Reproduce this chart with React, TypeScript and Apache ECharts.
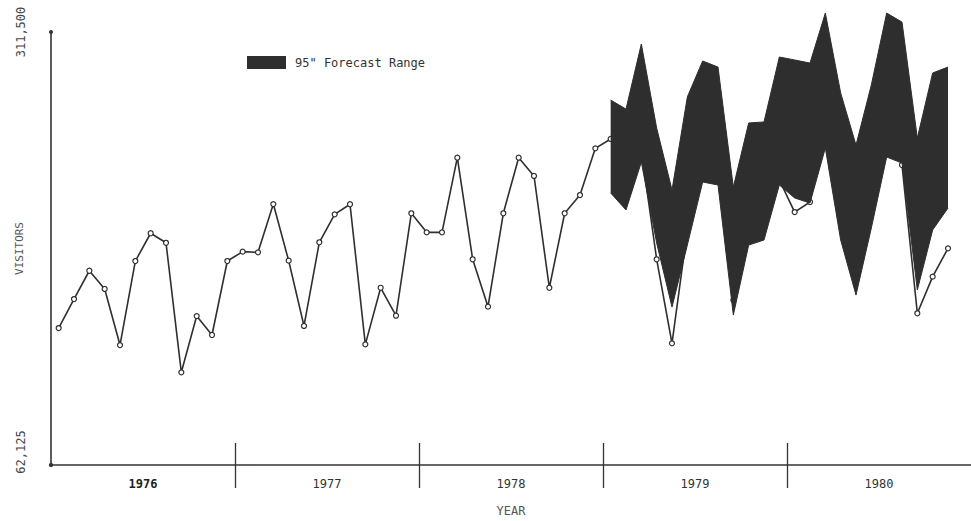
import React, { useEffect, useRef } from 'react';
import * as echarts from 'echarts';

const years = ['1976', '1977', '1978', '1979', '1980'];
const months = ['Jan', 'Feb', 'Mar', 'Apr', 'May', 'Jun', 'Jul', 'Aug', 'Sep', 'Oct', 'Nov', 'Dec'];

const visitors1976 = [141000, 157700, 174000, 163500, 131200, 179600, 195600, 190100, 115500, 147900, 137000, 179600];
const visitors1977 = [185000, 184600, 212400, 179800, 142200, 190400, 206500, 212300, 131600, 164200, 148100, 207100];
const visitors1978 = [196100, 196100, 239100, 180600, 153300, 207100, 239100, 228600, 164200, 207100, 217600, 244500];
const visitors1979 = [249900, 244600, 243500, 180600, 132200, 197500, 237800, 243500, 157100, 197500, 200300, 226300];
const visitors1980 = [207800, 213600, 260800, 214700, 180200, 237800, 266600, 234900, 149500, 170600, 186900];

// 95% forecast range, Jan 1979 .. Nov 1980
const forecastUpper = [
  272300, 267100, 304600, 256200, 220500, 274100, 294800, 291300, 222200, 259100, 259700, 297100,
  295400, 293600, 322400, 276400, 246400, 281000, 322400, 317200, 250400, 287900, 291300,
];
const forecastLower = [
  218800, 209000, 236600, 190000, 153100, 188800, 225100, 223400, 148500, 188800, 191700, 223400,
  215900, 213000, 244700, 191700, 160000, 198600, 239500, 236000, 162900, 197500, 210100,
];
const forecastStartYear = '1979';

const yTickLabels = [62125, 311500];
const FORECAST_NAME = '95" Forecast Range';

const FONT = "'DejaVu Sans Mono', 'Liberation Mono', monospace";
const INK = '#333333';
const BAND = '#2e2e2e';

export default function App() {
  const ref = useRef<HTMLDivElement>(null);

  useEffect(() => {
    if (!ref.current) return;
    const chart = echarts.init(ref.current, undefined, { renderer: 'svg' });

    const categories: string[] = [];
    years.forEach((y) => months.forEach((m) => categories.push(`${m} ${y}`)));

    const visitors = [...visitors1976, ...visitors1977, ...visitors1978, ...visitors1979, ...visitors1980];
    const visitorsData = categories.map((_, i) => (i < visitors.length ? visitors[i] : '-'));

    const start = years.indexOf(forecastStartYear) * 12;
    const lowerData = categories.map((_, i) => {
      const k = i - start;
      return k >= 0 && k < forecastLower.length ? forecastLower[k] : '-';
    });
    const diffData = categories.map((_, i) => {
      const k = i - start;
      return k >= 0 && k < forecastUpper.length ? forecastUpper[k] - forecastLower[k] : '-';
    });

    const yearBoundaries = years.slice(1).map((_, i) => (i + 1) * 12);
    const yearCenters = years.map((_, i) => i * 12 + 6);

    const tickCommon = {
      type: 'value',
      min: 0,
      max: categories.length,
      position: 'bottom',
      axisLine: { show: false },
      splitLine: { show: false },
    };

    const option: any = {
      animation: false,
      backgroundColor: '#ffffff',
      grid: { left: 51, right: 0, top: 32, bottom: 56, containLabel: false, outerBoundsMode: 'none' },
      legend: {
        left: 242,
        top: 51,
        itemWidth: 39,
        itemHeight: 13,
        icon: 'rect',
        data: [FORECAST_NAME],
        textStyle: { fontFamily: FONT, fontSize: 12, color: INK, padding: [0, 0, 0, 4] },
      },
      xAxis: [
        {
          type: 'category',
          data: categories,
          boundaryGap: true,
          position: 'bottom',
          axisLine: { show: true, lineStyle: { color: INK, width: 1.6 }, symbol: ['circle', 'none'], symbolSize: [4, 4] },
          axisTick: { show: false },
          axisLabel: { show: false },
          splitLine: { show: false },
        },
        {
          ...tickCommon,
          axisTick: { show: true, length: 23, customValues: yearBoundaries, lineStyle: { color: INK, width: 1.3 } },
          axisLabel: {
            show: true,
            customValues: yearCenters,
            margin: 13,
            fontFamily: FONT,
            fontSize: 12,
            color: INK,
            formatter: (v: number) => {
              if (v % 12 !== 6) return '';
              const y = years[Math.floor(v / 12)];
              return y === years[0] ? `{b|${y}}` : y;
            },
            rich: { b: { fontFamily: FONT, fontSize: 12, fontWeight: 'bold', color: '#222' } },
          },
          name: 'YEAR',
          nameLocation: 'middle',
          nameGap: 40,
          nameMoveOverlap: false,
          nameTextStyle: { fontFamily: FONT, fontSize: 12, color: '#555' },
        },
        {
          ...tickCommon,
          axisTick: { show: true, inside: true, length: 22, customValues: yearBoundaries, lineStyle: { color: INK, width: 1.3 } },
          axisLabel: { show: false },
        },
      ],
      yAxis: {
        type: 'value',
        min: yTickLabels[0],
        max: yTickLabels[1],
        axisLine: { show: true, lineStyle: { color: INK, width: 1.6 }, symbol: ['circle', 'circle'], symbolSize: [4, 4] },
        axisTick: { show: false },
        splitLine: { show: false },
        axisLabel: {
          show: true,
          customValues: yTickLabels,
          rotate: 90,
          margin: 24,
          fontFamily: FONT,
          fontSize: 12,
          color: '#444',
          formatter: (v: number) => {
            if (!yTickLabels.includes(v)) return '';
            const s = v.toLocaleString('en-US');
            return v === yTickLabels[0] ? `{lo|${s}}` : s;
          },
          rich: { lo: { fontFamily: FONT, fontSize: 12, color: '#444', padding: [0, 0, 0, 26] } },
        },
        name: 'VISITORS',
        nameLocation: 'middle',
        nameGap: 26,
        nameMoveOverlap: false,
        nameTextStyle: { fontFamily: FONT, fontSize: 11, color: '#555' },
      },
      series: [
        {
          type: 'line',
          name: 'Visitors',
          xAxisIndex: 0,
          yAxisIndex: 0,
          data: visitorsData,
          symbol: 'circle',
          symbolSize: 5,
          showSymbol: true,
          clip: false,
          lineStyle: { color: '#2f2f2f', width: 1.6 },
          itemStyle: { color: '#ffffff', borderColor: '#2f2f2f', borderWidth: 1.2 },
          z: 2,
        },
        {
          type: 'line',
          name: 'Forecast lower',
          xAxisIndex: 0,
          yAxisIndex: 0,
          stack: 'band',
          data: lowerData,
          symbol: 'none',
          clip: false,
          color: BAND,
          lineStyle: { color: BAND, width: 1 },
          z: 3,
        },
        {
          type: 'line',
          name: FORECAST_NAME,
          xAxisIndex: 0,
          yAxisIndex: 0,
          stack: 'band',
          data: diffData,
          symbol: 'none',
          clip: false,
          color: BAND,
          lineStyle: { color: BAND, width: 1 },
          areaStyle: { color: BAND, opacity: 1 },
          z: 3,
        },
      ],
    };

    chart.setOption(option);
    return () => chart.dispose();
  }, []);

  return (
    <div
      ref={ref}
      style={{ position: 'fixed', left: 0, top: 0, width: 971, height: 521, background: '#ffffff' }}
    />
  );
}
